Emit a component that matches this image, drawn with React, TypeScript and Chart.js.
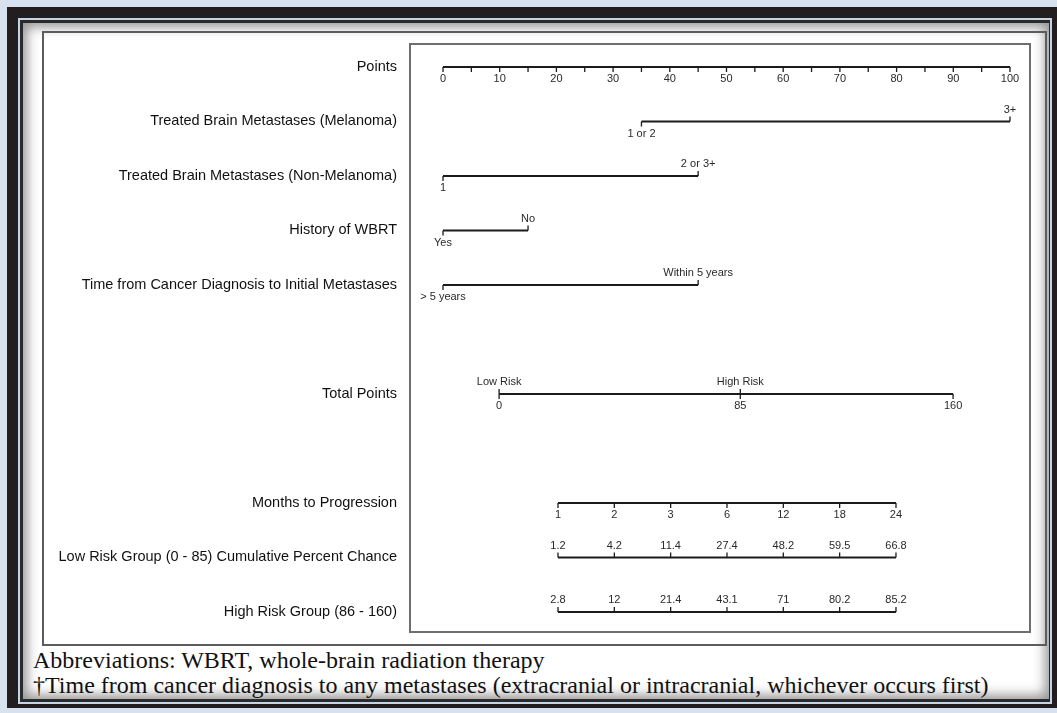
import React, { useEffect, useRef } from "react";
import { Chart, registerables } from "chart.js";

Chart.register(...registerables);

// ---------- data ----------
const rowNames = [
  "Points",
  "Treated Brain Metastases (Melanoma)",
  "Treated Brain Metastases (Non-Melanoma)",
  "History of WBRT",
  "Time from Cancer Diagnosis to Initial Metastases",
  "Total Points",
  "Months to Progression",
  "Low Risk Group (0 - 85) Cumulative Percent Chance",
  "High Risk Group (86 - 160)",
];
const rowPositions = [0, 1, 2, 3, 4, 6, 8, 9, 10];

const pointsMajorTicks = [0, 10, 20, 30, 40, 50, 60, 70, 80, 90, 100];
const pointsMinorTicks = [5, 15, 25, 35, 45, 55, 65, 75, 85, 95];

const melanomaLevels = ["1 or 2", "3+"];
const melanomaPoints = [35, 100];
const nonMelanomaLevels = ["1", "2 or 3+"];
const nonMelanomaPoints = [0, 45];
const wbrtLevels = ["Yes", "No"];
const wbrtPoints = [0, 15];
const timeLevels = ["> 5 years", "Within 5 years"];
const timePoints = [0, 45];

const totalTicks = [0, 85, 160];
const riskLabels = ["Low Risk", "High Risk"];
const riskCutoffs = [0, 85];

const monthLabels = ["1", "2", "3", "6", "12", "18", "24"];
const lowRiskPercent = [1.2, 4.2, 11.4, 27.4, 48.2, 59.5, 66.8];
const highRiskPercent = [2.8, 12, 21.4, 43.1, 71, 80.2, 85.2];

const footnotes = [
  "Abbreviations: WBRT, whole-brain radiation therapy",
  "\u2020Time from cancer diagnosis to any metastases (extracranial or intracranial, whichever occurs first)",
];

// ---------- styling ----------
const INK = "#1b1b1b";
const TICK_FONT = "11px 'Liberation Sans', Arial, sans-serif";
const TICK_LEN = 5;
const LABEL_GAP = 12;

type Side = "above" | "below";

function seg(scaleId: string, row: number, from: number, to: number) {
  return {
    data: [
      { x: from, y: row },
      { x: to, y: row },
    ],
    xAxisID: scaleId,
    yAxisID: "y",
    showLine: true,
    borderColor: INK,
    borderWidth: 2.2,
    pointRadius: 0,
    borderCapStyle: "butt" as const,
  };
}

const nomogramPlugin = {
  id: "nomogram",
  afterDatasetsDraw(chart: any) {
    const ctx: CanvasRenderingContext2D = chart.ctx;
    const ys = chart.scales.y;
    const sx = chart.scales.x;
    const st = chart.scales.xt;
    const sm = chart.scales.xm;
    const area = chart.chartArea;

    ctx.save();
    // plot frame
    ctx.strokeStyle = "#6e6e6e";
    ctx.lineWidth = 2;
    ctx.strokeRect(area.left, area.top, area.right - area.left, area.bottom - area.top);

    ctx.strokeStyle = INK;
    ctx.fillStyle = "#2a2a2a";
    ctx.font = TICK_FONT;
    ctx.textAlign = "center";
    ctx.textBaseline = "middle";
    ctx.lineWidth = 1.3;

    const tick = (x: number, y: number, side: Side) => {
      ctx.beginPath();
      ctx.moveTo(x, y);
      ctx.lineTo(x, side === "above" ? y - TICK_LEN : y + TICK_LEN);
      ctx.stroke();
    };
    const label = (x: number, y: number, side: Side, text: string) => {
      ctx.fillText(text, x, side === "above" ? y - LABEL_GAP : y + LABEL_GAP);
    };

    // Points axis
    const yP = ys.getPixelForValue(rowPositions[0]);
    [...pointsMajorTicks, ...pointsMinorTicks].forEach((v) => tick(sx.getPixelForValue(v), yP, "below"));
    pointsMajorTicks.forEach((v) => label(sx.getPixelForValue(v), yP, "below", String(v)));

    // factor rows
    const factors: [string[], number[], number][] = [
      [melanomaLevels, melanomaPoints, rowPositions[1]],
      [nonMelanomaLevels, nonMelanomaPoints, rowPositions[2]],
      [wbrtLevels, wbrtPoints, rowPositions[3]],
      [timeLevels, timePoints, rowPositions[4]],
    ];
    factors.forEach(([levels, pts, row]) => {
      const y = ys.getPixelForValue(row);
      levels.forEach((lv, i) => {
        const side: Side = i % 2 === 0 ? "below" : "above";
        const x = sx.getPixelForValue(pts[i]);
        tick(x, y, side);
        label(x, y, side, lv);
      });
    });

    // Total points
    const yT = ys.getPixelForValue(rowPositions[5]);
    totalTicks.forEach((v) => {
      const x = st.getPixelForValue(v);
      tick(x, yT, "below");
      label(x, yT, "below", String(v));
    });
    riskCutoffs.forEach((v, i) => {
      const x = st.getPixelForValue(v);
      tick(x, yT, "above");
      label(x, yT, "above", riskLabels[i]);
    });

    // Months & risk groups
    const yM = ys.getPixelForValue(rowPositions[6]);
    const yL = ys.getPixelForValue(rowPositions[7]);
    const yH = ys.getPixelForValue(rowPositions[8]);
    monthLabels.forEach((m, i) => {
      const x = sm.getPixelForValue(i);
      tick(x, yM, "below");
      label(x, yM, "below", m);
      tick(x, yL, "above");
      label(x, yL, "above", String(lowRiskPercent[i]));
      tick(x, yH, "above");
      label(x, yH, "above", String(highRiskPercent[i]));
    });
    ctx.restore();
  },
};

export default function App() {
  const canvasRef = useRef<HTMLCanvasElement | null>(null);

  useEffect(() => {
    const canvas = canvasRef.current;
    if (!canvas) return;
    const datasets = [
      seg("x", rowPositions[0], pointsMajorTicks[0], pointsMajorTicks[pointsMajorTicks.length - 1]),
      seg("x", rowPositions[1], melanomaPoints[0], melanomaPoints[1]),
      seg("x", rowPositions[2], nonMelanomaPoints[0], nonMelanomaPoints[1]),
      seg("x", rowPositions[3], wbrtPoints[0], wbrtPoints[1]),
      seg("x", rowPositions[4], timePoints[0], timePoints[1]),
      seg("xt", rowPositions[5], totalTicks[0], totalTicks[totalTicks.length - 1]),
      seg("xm", rowPositions[6], 0, monthLabels.length - 1),
      seg("xm", rowPositions[7], 0, lowRiskPercent.length - 1),
      seg("xm", rowPositions[8], 0, highRiskPercent.length - 1),
    ];
    const chart = new Chart(canvas, {
      type: "scatter",
      data: { datasets },
      options: {
        animation: false,
        responsive: false,
        events: [],
        layout: { padding: { top: 13, right: 17, bottom: 14, left: 0 } },
        plugins: { legend: { display: false }, tooltip: { enabled: false } },
        scales: {
          x: { type: "linear", display: false, min: -5.82, max: 103.53 },
          xt: { type: "linear", axis: "x", position: "bottom", display: false, min: -31.4, max: 187.1 },
          xm: { type: "linear", axis: "x", position: "bottom", display: false, min: -2.627, max: 8.379 },
          y: {
            type: "linear",
            position: "left",
            reverse: true,
            min: -0.422,
            max: 10.367,
            grid: { display: false, drawTicks: false },
            border: { display: false },
            afterFit: (s: any) => {
              s.width = 368;
              s.paddingTop = 0;
              s.paddingBottom = 0;
            },
            afterBuildTicks: (s: any) => {
              s.ticks = rowPositions.map((v) => ({ value: v }));
            },
            ticks: {
              autoSkip: false,
              padding: 13,
              color: "#111111",
              font: { family: "'Liberation Sans', Arial, sans-serif", size: 14.5 },
              callback: (v: any) => {
                const i = rowPositions.indexOf(Number(v));
                return i >= 0 ? rowNames[i] : "";
              },
            },
          },
        },
      } as any,
      plugins: [nomogramPlugin],
    });
    return () => chart.destroy();
  }, []);

  const abs = (s: React.CSSProperties): React.CSSProperties => ({ position: "absolute", ...s });

  return (
    <div style={{ position: "fixed", inset: 0, background: "#d7e2ee", overflow: "hidden" }}>
      <div style={abs({ left: 7, top: 7, width: 1060, height: 701, background: "#221e1f" })} />
      <div style={abs({ left: 18, top: 18, width: 1034, height: 686, background: "#c5d3e4" })} />
      <div style={abs({ left: 20, top: 20, width: 1030, height: 682, background: "#2b2b2b" })} />
      <div
        style={abs({
          left: 23,
          top: 23,
          width: 1026,
          height: 676,
          background: "#ffffff",
          boxShadow: "inset 0 0 12px 4px rgba(0,0,0,0.42)",
        })}
      />
      <div style={abs({ left: 42, top: 31, width: 1005, height: 615, border: "2px solid #5c5c5c", boxSizing: "border-box" })} />
      <canvas
        ref={canvasRef}
        width={1005}
        height={615}
        style={abs({ left: 42, top: 31, width: 1005, height: 615 })}
      />
      {footnotes.map((t, i) => (
        <div
          key={i}
          style={abs({
            left: 33,
            top: 648 + i * 25,
            height: 25,
            lineHeight: "25px",
            fontFamily: "'Liberation Serif', 'Times New Roman', serif",
            fontSize: 24,
            color: "#111",
            whiteSpace: "nowrap",
          })}
        >
          {t}
        </div>
      ))}
    </div>
  );
}
